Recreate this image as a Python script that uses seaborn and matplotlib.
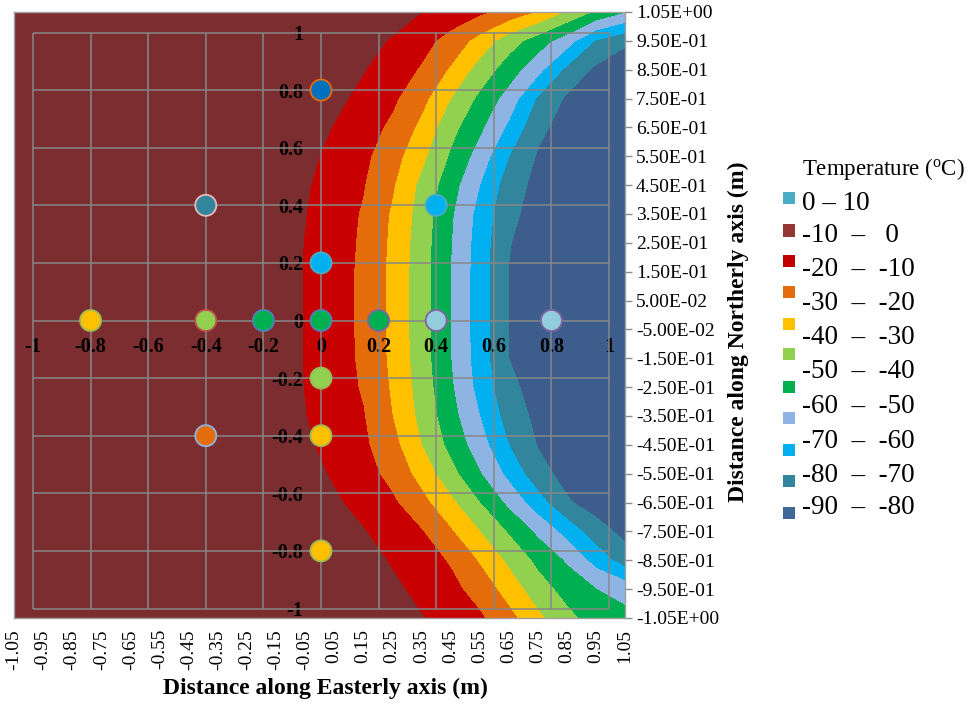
import numpy as np
import pandas as pd
import seaborn as sns
import matplotlib.pyplot as plt
from matplotlib.patches import Rectangle

# surface grid (m)
easting = [-1.05, -0.95, -0.85, -0.75, -0.65, -0.55, -0.45, -0.35, -0.25, -0.15, -0.05,
           0.05, 0.15, 0.25, 0.35, 0.45, 0.55, 0.65, 0.75, 0.85, 0.95, 1.05]
northing = [1.05, 0.95, 0.85, 0.75, 0.65, 0.55, 0.45, 0.35, 0.25, 0.15, 0.05,
            -0.05, -0.15, -0.25, -0.35, -0.45, -0.55, -0.65, -0.75, -0.85, -0.95, -1.05]

# temperature (oC), one row per northing value
temperature = [
    [-2, -2, -2, -2, -2, -2, -2, -2, -2, -2, -2, -2, -2, -5, -10, -14.2, -18.3, -24, -31.1, -41.4, -52, -60],
    [-2, -2, -2, -2, -2, -2, -2, -2, -2, -2, -2, -2, -6, -11.1, -16.7, -23.6, -33.8, -45.6, -55, -65.7, -81, -88],
    [-2, -2, -2, -2, -2, -2, -2, -2, -2, -2, -2, -4.5, -9.5, -15, -21, -31.3, -44.1, -55, -67.1, -82.5, -92, -97],
    [-2, -2, -2, -2, -2, -2, -2, -2, -2, -2, -2.5, -7.5, -12.8, -18.3, -27, -40, -52.2, -64.3, -81.3, -91.5, -96.5, -99],
    [-2, -2, -2, -2, -2, -2, -2, -2, -2, -2, -5.5, -10.5, -15.8, -22, -32.5, -46.7, -58, -72, -87.5, -94, -99, -99],
    [-2, -2, -2, -2, -2, -2, -2, -2, -2, -2.5, -7.5, -12.6, -17.9, -26, -37.5, -51.3, -64.3, -80, -91, -96, -99, -99],
    [-2, -2, -2, -2, -2, -2, -2, -2, -2, -4, -9, -14.2, -19.5, -29, -42.5, -55.7, -70, -85, -93, -98, -99, -99],
    [-2, -2, -2, -2, -2, -2, -2, -2, -2, -4.8, -9.8, -15.1, -21, -31.3, -44.3, -58.6, -73.3, -87.5, -94, -99, -99, -99],
    [-2, -2, -2, -2, -2, -2, -2, -2, -2, -5.3, -10.3, -15.5, -21.6, -32, -45.2, -59.5, -74.5, -89.5, -95, -99, -99, -99],
    [-2, -2, -2, -2, -2, -2, -2, -2, -2, -5.5, -10.5, -15.8, -22, -32.5, -45.7, -60, -75, -90.2, -95.5, -99, -99, -99],
    [-2, -2, -2, -2, -2, -2, -2, -2, -2, -5.5, -10.5, -15.8, -22, -32.5, -45.7, -60, -75, -90.2, -95.5, -99, -99, -99],
    [-2, -2, -2, -2, -2, -2, -2, -2, -2, -5.5, -10.5, -15.8, -22, -32.5, -45.7, -60, -75, -90.2, -95.5, -99, -99, -99],
    [-2, -2, -2, -2, -2, -2, -2, -2, -2, -5.5, -10.5, -15.7, -21.8, -32.2, -45.4, -59.8, -74.8, -90, -95.2, -99, -99, -99],
    [-2, -2, -2, -2, -2, -2, -2, -2, -2, -5.3, -10.3, -15.4, -21, -31.3, -44.3, -58.6, -73.3, -87.5, -94, -99, -99, -99],
    [-2, -2, -2, -2, -2, -2, -2, -2, -2, -4.8, -9.8, -14.6, -19.5, -30, -42.9, -56.3, -70, -84.4, -92.5, -97.5, -99, -99],
    [-2, -2, -2, -2, -2, -2, -2, -2, -2, -3.5, -8.5, -13.4, -18.3, -26.8, -40, -52.9, -65.7, -80, -90.5, -95.5, -99, -99],
    [-2, -2, -2, -2, -2, -2, -2, -2, -2, -2, -6.3, -11.3, -16.4, -23, -33.8, -46.7, -59.4, -72.9, -86.3, -93.5, -98.5, -99],
    [-2, -2, -2, -2, -2, -2, -2, -2, -2, -2, -3.5, -8.5, -13.5, -18.5, -27, -37.8, -50, -62.5, -75.7, -88.8, -94.5, -99],
    [-2, -2, -2, -2, -2, -2, -2, -2, -2, -2, -2, -4.5, -9.5, -14.5, -19.5, -29, -40, -51.1, -62.2, -73.8, -85.6, -93],
    [-2, -2, -2, -2, -2, -2, -2, -2, -2, -2, -2, -2, -6, -11, -15.7, -21, -31.1, -42.2, -52.5, -61.3, -73.8, -85],
    [-2, -2, -2, -2, -2, -2, -2, -2, -2, -2, -2, -2, -3, -8, -12.7, -17.3, -24, -34.4, -45.6, -53.8, -60, -64],
    [-2, -2, -2, -2, -2, -2, -2, -2, -2, -2, -2, -2, -2, -4.5, -9.5, -14.1, -18.6, -27, -37.8, -47.3, -54.7, -57],
]

band_levels = [-100, -90, -80, -70, -60, -50, -40, -30, -20, -10, 0]
band_colors = ['#3d5e8c', '#31859c', '#00b0f0', '#8eb4e3', '#00b050',
               '#92d050', '#ffc000', '#e46c0a', '#c80000', '#7b2d2f']

# sensor positions and colours
sensor_x = [0, -0.4, 0.4, 0, -0.8, -0.4, -0.2, 0, 0.2, 0.4, 0.8, 0, -0.4, 0, 0]
sensor_y = [0.8, 0.4, 0.4, 0.2, 0, 0, 0, 0, 0, 0, 0, -0.2, -0.4, -0.4, -0.8]
sensor_fill = ['#0070c0', '#31859c', '#00b0f0', '#00b0f0', '#ffc000', '#92d050', '#00b050',
               '#00b050', '#00b050', '#93cddd', '#93cddd', '#92d050', '#e46c0a', '#ffc000', '#ffc000']
sensor_edge = ['#e46c0a', '#e6b9b8', '#4bacc6', '#4bacc6', '#9bbb59', '#c0504d', '#4f81bd',
               '#4f81bd', '#8064a2', '#8064a2', '#8064a2', '#9bbb59', '#8eb4e3', '#9bbb59', '#9bbb59']

scatter_ticks = [-1, -0.8, -0.6, -0.4, -0.2, 0, 0.2, 0.4, 0.6, 0.8, 1]

legend_labels = ['0 \u2013 10', '-10  \u2013   0', '-20  \u2013  -10', '-30  \u2013  -20', '-40  \u2013  -30',
                 '-50  \u2013  -40', '-60  \u2013  -50', '-70  \u2013  -60', '-80  \u2013  -70', '-90  \u2013  -80']
legend_colors = ['#4bacc6', '#953735', '#c00000', '#e46c0a', '#ffc000', '#92d050',
                 '#00b050', '#8eb4e3', '#00b0f0', '#31859c', '#3f6797']

sns.set_style('white')
plt.rcParams['font.family'] = ['Liberation Serif', 'DejaVu Serif']
plt.rcParams['mathtext.fontset'] = 'custom'
plt.rcParams['mathtext.rm'] = 'Liberation Serif'
plt.rcParams['text.color'] = 'black'
plt.rcParams['xtick.color'] = 'black'
plt.rcParams['ytick.color'] = 'black'
plt.rcParams['axes.labelcolor'] = 'black'

W, H = 974, 705
fig = plt.figure(figsize=(W / 100, H / 100), dpi=100)

def fx(px):
    return px / W

def fy(py):
    return 1 - py / H

# surface (contour) layer
ax1 = fig.add_axes([fx(14), fy(618), (625 - 14) / W, (618 - 12) / H])
X, Y = np.meshgrid(easting, northing)
ax1.contourf(X, Y, np.array(temperature), levels=band_levels, colors=band_colors)
ax1.set_xlim(-1.05, 1.05)
ax1.set_ylim(-1.05, 1.05)
ax1.set_xticks(easting)
ax1.set_xticklabels([f'{v:.2f}' for v in easting], rotation=90, fontsize=14)
ax1.yaxis.tick_right()
ax1.set_yticks(northing)
ax1.set_yticklabels([f'{v:.2E}' for v in northing], fontsize=14)
ax1.tick_params(direction='out', length=5, width=1, color='#8c8c8c', labelcolor='black', pad=3)
ax1.tick_params(axis='y', left=False, right=True)
for s in ax1.spines.values():
    s.set_color('#a0a0a0')
    s.set_linewidth(1)

ax1.set_xlabel('Distance along Easterly axis (m)', fontsize=17, fontweight='bold', va='center')
ax1.xaxis.set_label_coords((325 - 14) / 611, (705 - 688 - 87) / 606)
ax1.yaxis.set_label_position('right')
ax1.set_ylabel('Distance along Northerly axis (m)', fontsize=17, fontweight='bold',
               rotation=90, va='center', ha='center')
ax1.yaxis.set_label_coords((738 - 14) / 611, (705 - 332 - 87) / 606)

# sensor (scatter) layer
sc = 288.0
ax2 = fig.add_axes([fx(321 - 1.01 * sc), fy(320.5 + 1.01 * sc), 2.02 * sc / W, 2.02 * sc / H])
ax2.set_facecolor('none')
ax2.spines['left'].set_position(('data', 0))
ax2.spines['bottom'].set_position(('data', 0))
for s in ax2.spines.values():
    s.set_color('none')
ax2.hlines(scatter_ticks, -1, 1, color='#878787', lw=1.1, zorder=1)
ax2.vlines(scatter_ticks, -1, 1, color='#878787', lw=1.1, zorder=1)

df = pd.DataFrame({'x': sensor_x, 'y': sensor_y, 'id': [f'p{i}' for i in range(len(sensor_x))]})
sns.scatterplot(data=df, x='x', y='y', hue='id', palette=sensor_fill, edgecolor=sensor_edge,
                linewidth=1.3, s=230, legend=False, ax=ax2, zorder=3)

ax2.set_xlim(-1.01, 1.01)
ax2.set_ylim(-1.01, 1.01)
ax2.set_xlabel('')
ax2.set_ylabel('')
ax2.set_xticks(scatter_ticks)
ax2.set_xticklabels([f'{v:g}' for v in scatter_ticks], fontsize=14.5, fontweight='bold', color='black')
ax2.set_yticks(scatter_ticks)
ax2.set_yticklabels([f'{v:g}' for v in scatter_ticks], fontsize=14.5, fontweight='bold', color='black')
ax2.tick_params(axis='x', length=0, pad=12)
ax2.tick_params(axis='y', length=0, pad=13)

# legend
fig.text(fx(802), fy(169), r'Temperature ($\mathregular{^o}$C)', fontsize=16.5, va='center', ha='left')
sq_y = [198, 230.5, 261.5, 291.5, 323.5, 354, 387, 418, 450, 481, 512.5]
for yy, col in zip(sq_y, legend_colors):
    fig.add_artist(Rectangle((fx(783), fy(yy + 6)), 12 / W, 12 / H, transform=fig.transFigure,
                             facecolor=col, edgecolor='none'))
txt_y = [203, 236, 269, 303, 337, 372, 406, 441, 475, 508]
for yy, lab in zip(txt_y, legend_labels):
    fig.text(fx(802), fy(yy), lab, fontsize=19.5, va='center', ha='left')

fig.savefig('out.png', dpi=100)
